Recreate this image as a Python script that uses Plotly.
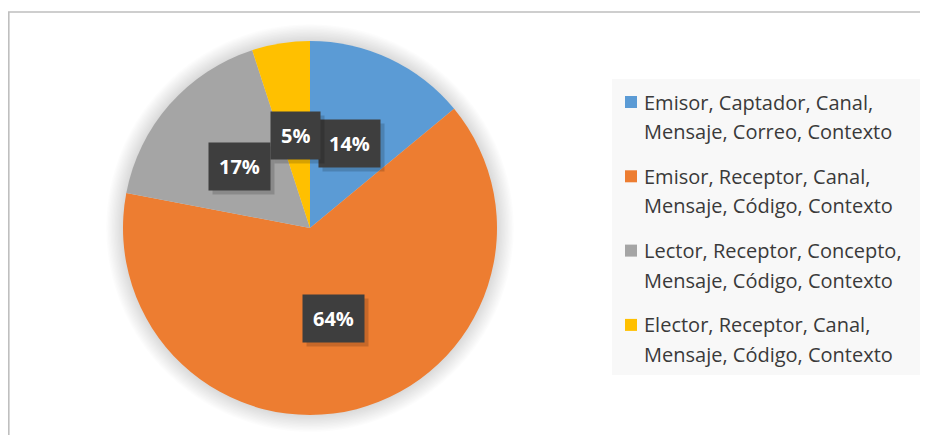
import math
import plotly.graph_objects as go

# page body has an 8px margin; work in reference-screen pixels
OFF = 8
W, H = 928, 427

labels = [
    "Emisor, Captador, Canal,<br>Mensaje, Correo, Contexto",
    "Emisor, Receptor, Canal,<br>Mensaje, Código, Contexto",
    "Lector, Receptor, Concepto,<br>Mensaje, Código, Contexto",
    "Elector, Receptor, Canal,<br>Mensaje, Código, Contexto",
]
values = [14, 64, 17, 5]
colors = ["#5B9BD5", "#ED7D31", "#A5A5A5", "#FFC000"]

# pie geometry (screen pixels)
CX, CY, R = 310, 228, 187


def px(x):
    return (x - OFF) / W


def py(y):
    return 1 - (y - OFF) / H


fig = go.Figure()
fig.add_trace(go.Pie(
    labels=labels, values=values, sort=False, direction="clockwise", rotation=0,
    marker=dict(colors=colors, line=dict(width=0)),
    textinfo="none", hoverinfo="label+percent", showlegend=False,
    domain=dict(x=[px(CX - R), px(CX + R)], y=[py(CY + R), py(CY - R)]),
))

shapes = []
# soft glow around pie
for i in range(1, 13):
    r = R + i * 1.4
    shapes.append(dict(type="circle", xref="paper", yref="paper", layer="below",
                       x0=px(CX - r), x1=px(CX + r), y0=py(CY + r), y1=py(CY - r),
                       line=dict(width=0), fillcolor="rgba(0,0,0,0.013)"))
# chart border
shapes.append(dict(type="rect", xref="paper", yref="paper",
                   x0=px(8.8), x1=px(945), y0=py(445), y1=py(12),
                   line=dict(color="#BFBFBF", width=1.6), fillcolor="rgba(0,0,0,0)"))
# legend background
shapes.append(dict(type="rect", xref="paper", yref="paper", layer="below",
                   x0=px(612), x1=px(945), y0=py(375), y1=py(79),
                   line=dict(width=0), fillcolor="#F8F8F8"))

annotations = []
total = sum(values)
cum = 0
for v in values:
    mid = (cum + v / 2) / total * 2 * math.pi
    cum += v
    lx = CX + 0.5 * R * math.sin(mid)
    ly = CY - 0.5 * R * math.cos(mid)
    txt = f"{round(v / total * 100)}%"
    common = dict(x=px(lx), y=py(ly), xref="paper", yref="paper", showarrow=False,
                  xanchor="center", yanchor="middle", borderpad=10, height=27)
    # shadow
    annotations.append(dict(**common, text=f"<b>{txt}</b>",
                            font=dict(family="Open Sans", size=20, color="rgba(0,0,0,0)"),
                            bgcolor="rgba(0,0,0,0.16)", xshift=4, yshift=-4))
    annotations.append(dict(**common, text=f"<b>{txt}</b>",
                            font=dict(family="Open Sans", size=20, color="white"),
                            bgcolor="#3E3E3E"))

# custom legend
top0, pitch, linegap = 102, 74.3, 29.5
for i, (lab, col) in enumerate(zip(labels, colors)):
    y1 = top0 + i * pitch
    shapes.append(dict(type="rect", xref="paper", yref="paper",
                       x0=px(625), x1=px(637), y0=py(y1 + 6), y1=py(y1 - 6),
                       line=dict(width=0), fillcolor=col))
    for j, line in enumerate(lab.split("<br>")):
        annotations.append(dict(x=px(642), y=py(y1 + j * linegap), xref="paper", yref="paper",
                                xanchor="left", yanchor="middle", showarrow=False, text=line,
                                font=dict(family="Open Sans", size=20, color="#3A3A3A")))

fig.update_layout(
    width=W, height=H, margin=dict(l=0, r=0, t=0, b=0),
    paper_bgcolor="white", plot_bgcolor="white",
    shapes=shapes, annotations=annotations,
)
fig.write_html("out.html")
